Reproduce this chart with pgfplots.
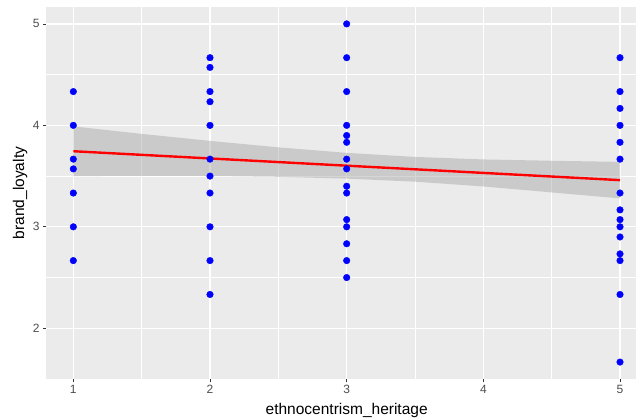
\documentclass[border=0pt]{standalone}
\usepackage{pgfplots}
\pgfplotsset{compat=1.18}
\usepackage{fontspec}
\setmainfont{Liberation Sans}
\definecolor{panelbg}{RGB}{235,235,235}
\definecolor{ticktext}{RGB}{77,77,77}
\definecolor{tickmark}{RGB}{51,51,51}
\definecolor{ribbon}{RGB}{153,153,153}

\begin{document}
\begin{tikzpicture}
\useasboundingbox (0,0) rectangle (636pt,419pt);
\begin{axis}[
    at={(46pt,40pt)}, anchor=south west,
    scale only axis,
    width=590pt, height=372pt,
    xmin=0.8, xmax=5.117,
    ymin=1.5, ymax=5.1667,
    xtick={1,2,3,4,5},
    ytick={2,3,4,5},
    minor xtick={1.5,2.5,3.5,4.5},
    minor ytick={2.5,3.5,4.5},
    grid=both,
    major grid style={white, line width=1.3pt},
    minor grid style={white, line width=0.6pt},
    axis background/.style={fill=panelbg},
    axis line style={draw=none},
    tick align=outside,
    major tick length=3pt,
    minor tick length=0pt,
    tick style={tickmark, line width=0.8pt},
    xtick pos=bottom, ytick pos=left,
    /pgf/number format/assume math mode=true,
    ticklabel style={font=\fontsize{12}{14}\selectfont, text=ticktext},
    xlabel={ethnocentrism\_heritage},
    ylabel={brand\_loyalty},
    every axis x label/.style={at={(axis cs:3,1.5)}, anchor=center, yshift=-31pt,
        font=\fontsize{15.5}{18}\selectfont},
    every axis y label/.style={at={(axis description cs:0,0.5)}, rotate=90, anchor=center, yshift=26pt,
        font=\fontsize{15.5}{18}\selectfont},
]

% observed points
\addplot[only marks, mark=*, mark size=3.3pt, blue, mark options={draw=none, fill=blue}] coordinates {
    (1,4.333) (1,4.0) (1,3.667) (1,3.571) (1,3.333) (1,3.0) (1,2.667)
    (2,4.667) (2,4.571) (2,4.333) (2,4.233) (2,4.0) (2,3.667) (2,3.5) (2,3.333) (2,3.0) (2,2.667) (2,2.333)
    (3,5.0) (3,4.667) (3,4.333) (3,4.0) (3,3.9) (3,3.833) (3,3.667) (3,3.571) (3,3.4) (3,3.333)
    (3,3.071) (3,3.0) (3,2.833) (3,2.667) (3,2.5)
    (5,4.667) (5,4.333) (5,4.167) (5,4.0) (5,3.833) (5,3.667) (5,3.333) (5,3.167) (5,3.071)
    (5,3.0) (5,2.9) (5,2.733) (5,2.667) (5,2.333) (5,1.667)
};

% confidence band (upper edge then lower edge back)
\addplot[draw=none, fill=ribbon, fill opacity=0.4] coordinates {
    (1,3.990) (1.5,3.916) (2,3.847) (2.5,3.783) (3,3.729) (3.5,3.689) (4,3.664) (4.5,3.651) (5,3.640)
    (5,3.280) (4.5,3.339) (4,3.398) (3.5,3.445) (3,3.475) (2.5,3.493) (2,3.501) (1.5,3.502) (1,3.500)
} -- cycle;

% fitted line
\addplot[red, line width=2.4pt] coordinates {(1,3.745) (5,3.460)};

\end{axis}
\end{tikzpicture}
\end{document}
